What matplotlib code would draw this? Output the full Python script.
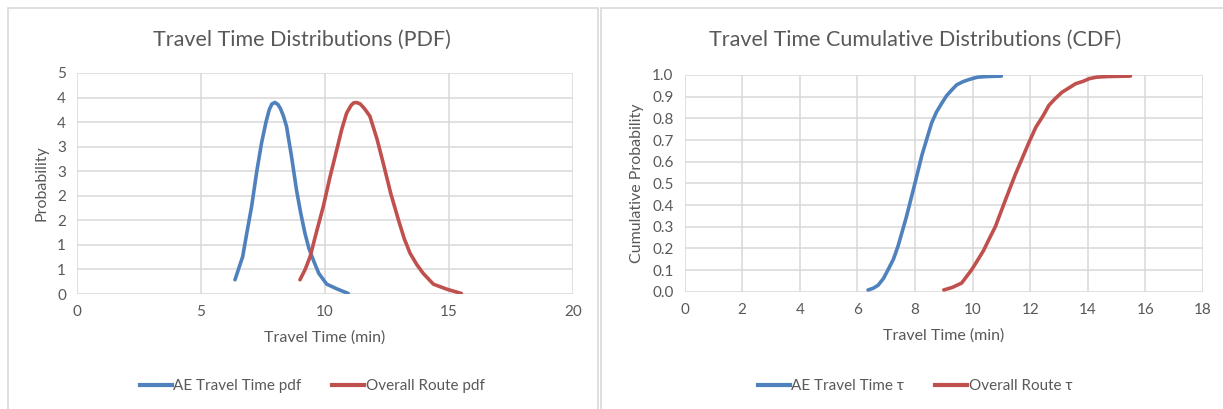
import matplotlib
matplotlib.use("Agg")
import matplotlib.pyplot as plt
from matplotlib.patches import Rectangle
from matplotlib.lines import Line2D

plt.rcParams['font.family'] = ['Lato', 'DejaVu Sans']

# =========================
# DATA
# =========================
ae_pdf_x = [6.37, 6.68, 6.85, 7.04, 7.25, 7.44, 7.62, 7.75, 7.86, 7.98, 8.1, 8.2,
            8.32, 8.45, 8.65, 8.85, 9.02, 9.19, 9.35, 9.53, 9.75, 10.07, 10.5, 10.94]
ae_pdf_y = [0.29, 0.76, 1.25, 1.78, 2.5, 3.07, 3.5, 3.75, 3.87, 3.9, 3.86, 3.78,
            3.63, 3.41, 2.8, 2.12, 1.65, 1.24, 0.93, 0.69, 0.42, 0.2, 0.1, 0.01]

route_pdf_x = [8.99, 9.2, 9.4, 9.65, 9.93, 10.2, 10.47, 10.68, 10.87, 11.05, 11.15, 11.27,
               11.42, 11.6, 11.81, 12.1, 12.35, 12.65, 12.96, 13.2, 13.43, 13.7, 13.96,
               14.37, 14.9, 15.5]
route_pdf_y = [0.29, 0.5, 0.76, 1.25, 1.78, 2.38, 2.93, 3.36, 3.68, 3.84, 3.89, 3.9,
               3.87, 3.77, 3.62, 3.15, 2.66, 2.05, 1.51, 1.12, 0.83, 0.6, 0.42,
               0.2, 0.1, 0.01]

ae_cdf_x = [6.37, 6.55, 6.72, 6.9, 7.06, 7.25, 7.41, 7.69, 7.96, 8.24, 8.58, 8.75, 8.93,
            9.1, 9.27, 9.45, 9.68, 9.9, 10.17, 10.5, 11.0]
ae_cdf_y = [0.008, 0.016, 0.03, 0.06, 0.10, 0.15, 0.21, 0.34, 0.48, 0.63, 0.78, 0.83, 0.87,
            0.905, 0.93, 0.955, 0.97, 0.98, 0.99, 0.993, 0.995]

route_cdf_x = [9.0, 9.3, 9.62, 9.96, 10.15, 10.38, 10.6, 10.79, 11.13, 11.48, 11.96, 12.2,
               12.44, 12.65, 12.86, 13.1, 13.34, 13.58, 13.82, 14.05, 14.3, 14.7, 15.48]
route_cdf_y = [0.008, 0.02, 0.04, 0.10, 0.14, 0.19, 0.25, 0.30, 0.42, 0.54, 0.69, 0.76,
               0.81, 0.86, 0.89, 0.92, 0.94, 0.96, 0.97, 0.983, 0.99, 0.993, 0.995]

pdf_yticks = [0, 0.5, 1, 1.5, 2, 2.5, 3, 3.5, 4, 4.5]
pdf_ylabels = ["0", "1", "1", "2", "2", "3", "3", "4", "4", "5"]

BLUE = "#4F81BD"
RED = "#C0504D"
GRID = "#D9D9D9"
TEXT = "#595959"

fig = plt.figure(figsize=(12.23, 4.09), dpi=100)

# panel frames
fig.patches.append(Rectangle((8 / 1223, -0.01), 590 / 1223, 1 - 8 / 409 + 0.01,
                             transform=fig.transFigure, fill=False, ec=GRID, lw=1.2))
fig.patches.append(Rectangle((601 / 1223, -0.01), 630 / 1223, 1 - 8 / 409 + 0.01,
                             transform=fig.transFigure, fill=False, ec=GRID, lw=1.2))


def style_axes(ax):
    for s in ax.spines.values():
        s.set_visible(False)
    ax.grid(True, color=GRID, lw=1.1)
    ax.set_axisbelow(True)
    ax.tick_params(length=0, colors=TEXT, labelsize=11, pad=8)


# --- PDF ---
ax1 = fig.add_axes([77 / 1223, 1 - 294 / 409, 496 / 1223, 221 / 409])
ax1.plot(ae_pdf_x, ae_pdf_y, color=BLUE, lw=2.6, solid_capstyle="round", solid_joinstyle="round")
ax1.plot(route_pdf_x, route_pdf_y, color=RED, lw=2.6, solid_capstyle="round", solid_joinstyle="round")
ax1.set_xlim(0, 20)
ax1.set_ylim(0, 4.5)
ax1.set_xticks([0, 5, 10, 15, 20])
ax1.set_yticks(pdf_yticks)
ax1.set_yticklabels(pdf_ylabels)
style_axes(ax1)
ax1.set_xlabel("Travel Time (min)", color=TEXT, fontsize=11.5, labelpad=8)
ax1.set_ylabel("Probability", color=TEXT, fontsize=11.5, labelpad=6)
fig.text(302 / 1223, 1 - 40 / 409, "Travel Time Distributions (PDF)", ha="center",
         va="center", color=TEXT, fontsize=15.5)

# --- CDF ---
ax2 = fig.add_axes([684.6 / 1223, 1 - 291.7 / 409, 518.4 / 1223, 216.7 / 409])
ax2.plot(ae_cdf_x, ae_cdf_y, color=BLUE, lw=2.6, solid_capstyle="round", solid_joinstyle="round")
ax2.plot(route_cdf_x, route_cdf_y, color=RED, lw=2.6, solid_capstyle="round", solid_joinstyle="round")
ax2.set_xlim(0, 18)
ax2.set_ylim(0, 1.0)
ax2.set_xticks(range(0, 19, 2))
ax2.set_yticks([i / 10 for i in range(11)])
ax2.set_yticklabels([f"{i / 10:.1f}" for i in range(11)])
style_axes(ax2)
ax2.set_xlabel("Travel Time (min)", color=TEXT, fontsize=11.5, labelpad=8)
ax2.set_ylabel("Cumulative Probability", color=TEXT, fontsize=11.5, labelpad=6)
fig.text(915 / 1223, 1 - 40 / 409, "Travel Time Cumulative Distributions (CDF)", ha="center",
         va="center", color=TEXT, fontsize=15.5)

# legends
def add_legend(cx, labels):
    handles = [Line2D([], [], color=BLUE, lw=3), Line2D([], [], color=RED, lw=3)]
    leg = fig.legend(handles, labels, loc="center", bbox_to_anchor=(cx, 1 - 386 / 409),
                     ncol=2, frameon=False, fontsize=11, handlelength=2.1,
                     handletextpad=0.1, columnspacing=2.0)
    for t in leg.get_texts():
        t.set_color(TEXT)

add_legend(312 / 1223, ["AE Travel Time pdf", "Overall Route pdf"])
add_legend(915 / 1223, ["AE Travel Time τ", "Overall Route τ"])

fig.savefig("out.png", dpi=100)
